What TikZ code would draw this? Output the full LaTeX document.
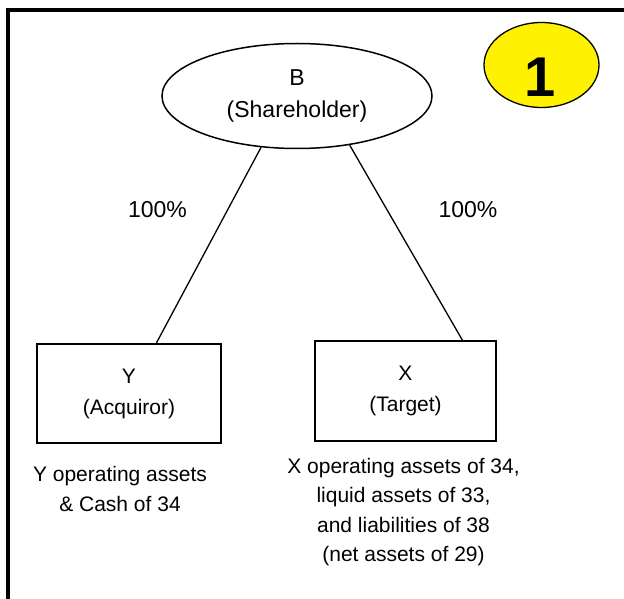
\documentclass[tikz,border=0pt]{standalone}
\usepackage{fontspec}
\setmainfont{Liberation Sans}
\usetikzlibrary{shapes.geometric,calc}
\begin{document}
\begin{tikzpicture}[x=1pt,y=-1pt,
  entity/.style={draw, line width=1.5pt, inner sep=0pt, align=center,
    font=\fontsize{21}{31}\selectfont},
  owner/.style={draw, ellipse, line width=1.5pt, inner sep=0pt, align=center,
    minimum width=270pt, minimum height=105pt, font=\fontsize{23}{32}\selectfont},
  badge/.style={draw, ellipse, fill=yellow, line width=1.3pt,
    minimum width=115pt, minimum height=85pt, inner sep=0pt},
  pct/.style={font=\fontsize{23}{28}\selectfont, inner sep=0pt, anchor=base},
  note/.style={font=\fontsize{21}{29.5}\selectfont, inner sep=0pt, align=center, anchor=north},
  link/.style={line width=1.3pt}]
\useasboundingbox (0,0) rectangle (624,599);
% frame
\draw[line width=4pt, line join=miter] (8,599) -- (8,10) -- (624,10);
% badge
\node[badge] (badge) at (541.5,65) {};
\node[inner sep=0pt, font=\fontsize{56}{60}\selectfont\bfseries] (badgenum) at (540,77) {1};
% nodes
\node[owner] (B) at (297,96) {B\\(Shareholder)};
\node[entity, minimum width=184pt, minimum height=99pt] (Y) at (129,393.5) {Y\\(Acquiror)};
\node[entity, minimum width=181pt, minimum height=100pt] (X) at (405.5,391) {X\\(Target)};
% connectors
\draw[link] (B.-125) -- ($(Y.north west)!0.647!(Y.north east)$);
\draw[link] (B.-43) -- ($(X.north west)!0.812!(X.north east)$);
% labels
\node[pct] (pl) at (157.5,217.7) {100\%};
\node[pct] (pr) at (468,217.7) {100\%};
\node[note] (ynote) at (120,466.5) {Y operating assets\\\& Cash of 34};
\node[note] (xnote) at (403.5,458) {X operating assets of 34,\\liquid assets of 33,\\and liabilities of 38\\(net assets of 29)};
\end{tikzpicture}
\end{document}
